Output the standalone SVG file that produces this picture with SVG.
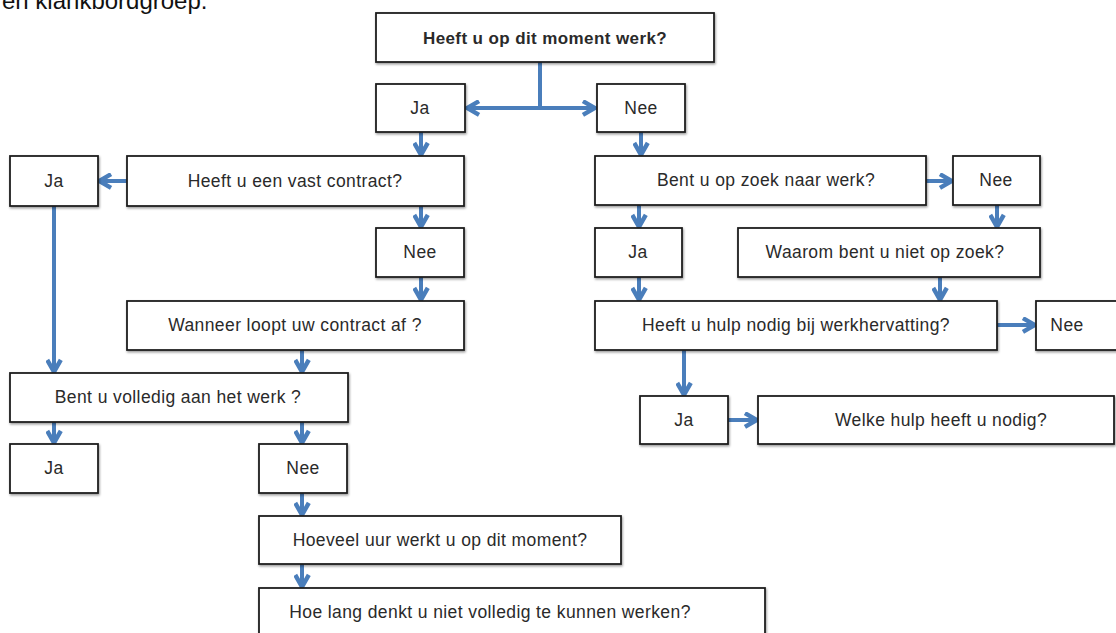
<svg xmlns="http://www.w3.org/2000/svg" width="1116" height="633" viewBox="0 0 1116 633">
<style>
.b{fill:#fff;stroke:#1e1e1e;stroke-width:1.8;filter:url(#sh)}
.t{font-family:"Liberation Sans",Arial,sans-serif;font-size:17.5px;fill:#2a2a2a;text-anchor:middle;letter-spacing:0.4px}
.tb{font-weight:bold;font-size:17px;letter-spacing:0.4px}
.c{fill:none;stroke:#4a7ebb;stroke-width:4;marker-end:url(#ah)}
</style>
<defs>
<filter id="sh" x="-5%" y="-10%" width="110%" height="130%">
<feDropShadow dx="0.8" dy="1.5" stdDeviation="0.8" flood-color="#000" flood-opacity="0.4"/>
</filter>
<marker id="ah" viewBox="0 0 10 10" refX="8" refY="5" markerWidth="17" markerHeight="17" markerUnits="userSpaceOnUse" orient="auto">
<path d="M1.5,1 L8.5,5 L1.5,9" fill="none" stroke="#4a7ebb" stroke-width="2.6" stroke-linejoin="miter"/>
</marker>
</defs>
<text x="2" y="9" style="font-family:'Liberation Sans',Arial,sans-serif;font-size:24px;fill:#111">en klankbordgroep.</text>
<g id="connectors">
<path class="c" d="M540,62 V108 H468"/>
<path class="c" d="M540,108 H594"/>
<path class="c" d="M421,132 V154"/>
<path class="c" d="M641,132 V154"/>
<path class="c" d="M127,181 H100"/>
<path class="c" d="M421,206 V226"/>
<path class="c" d="M421,277 V299"/>
<path class="c" d="M54,206 V371"/>
<path class="c" d="M302,350 V371"/>
<path class="c" d="M54,422 V442"/>
<path class="c" d="M302,422 V442"/>
<path class="c" d="M302,493 V514"/>
<path class="c" d="M302,564 V586"/>
<path class="c" d="M926,181 H951"/>
<path class="c" d="M639,205 V226"/>
<path class="c" d="M997,205 V226"/>
<path class="c" d="M639,277 V299"/>
<path class="c" d="M940,277 V299"/>
<path class="c" d="M997,325 H1034"/>
<path class="c" d="M684,350 V394"/>
<path class="c" d="M728,420 H756"/>
</g>
<g id="n-top"><rect class="b" x="376" y="13" width="338" height="49"/><text class="t tb" x="545" y="44">Heeft u op dit moment werk?</text></g>
<g id="n-ja1"><rect class="b" x="376" y="84" width="89" height="48"/><text class="t" x="420" y="114">Ja</text></g>
<g id="n-nee1"><rect class="b" x="597" y="84" width="88" height="48"/><text class="t" x="641" y="114">Nee</text></g>
<g id="n-vast"><rect class="b" x="127" y="156" width="337" height="50"/><text class="t" x="295" y="187">Heeft u een vast contract?</text></g>
<g id="n-ja2"><rect class="b" x="10" y="156" width="88" height="50"/><text class="t" x="54" y="187">Ja</text></g>
<g id="n-nee2"><rect class="b" x="376" y="228" width="88" height="49"/><text class="t" x="420" y="258">Nee</text></g>
<g id="n-wanneer"><rect class="b" x="127" y="301" width="337" height="49"/><text class="t" x="295" y="331">Wanneer loopt uw contract af ?</text></g>
<g id="n-volledig"><rect class="b" x="10" y="373" width="338" height="49"/><text class="t" x="178" y="403">Bent u volledig aan het werk ?</text></g>
<g id="n-ja3"><rect class="b" x="10" y="444" width="88" height="49"/><text class="t" x="54" y="474">Ja</text></g>
<g id="n-nee3"><rect class="b" x="259" y="444" width="88" height="49"/><text class="t" x="303" y="474">Nee</text></g>
<g id="n-hoeveel"><rect class="b" x="259" y="516" width="362" height="48"/><text class="t" x="440" y="546">Hoeveel uur werkt u op dit moment?</text></g>
<g id="n-holang"><rect class="b" x="259" y="588" width="506" height="60"/><text class="t" x="490" y="618">Hoe lang denkt u niet volledig te kunnen werken?</text></g>
<g id="n-zoek"><rect class="b" x="595" y="156" width="331" height="49"/><text class="t" x="766" y="186">Bent u op zoek naar werk?</text></g>
<g id="n-nee4"><rect class="b" x="953" y="156" width="87" height="49"/><text class="t" x="996" y="186">Nee</text></g>
<g id="n-ja4"><rect class="b" x="595" y="228" width="87" height="49"/><text class="t" x="638" y="258">Ja</text></g>
<g id="n-waarom"><rect class="b" x="738" y="228" width="302" height="49"/><text class="t" x="885" y="258">Waarom bent u niet op zoek?</text></g>
<g id="n-hulp"><rect class="b" x="595" y="301" width="402" height="49"/><text class="t" x="796" y="331">Heeft u hulp nodig bij werkhervatting?</text></g>
<g id="n-nee5"><rect class="b" x="1036" y="301" width="90" height="49"/><text class="t" x="1067" y="331">Nee</text></g>
<g id="n-ja5"><rect class="b" x="640" y="396" width="88" height="48"/><text class="t" x="684" y="426">Ja</text></g>
<g id="n-welke"><rect class="b" x="758" y="396" width="356" height="48"/><text class="t" x="941" y="426">Welke hulp heeft u nodig?</text></g>
</svg>
